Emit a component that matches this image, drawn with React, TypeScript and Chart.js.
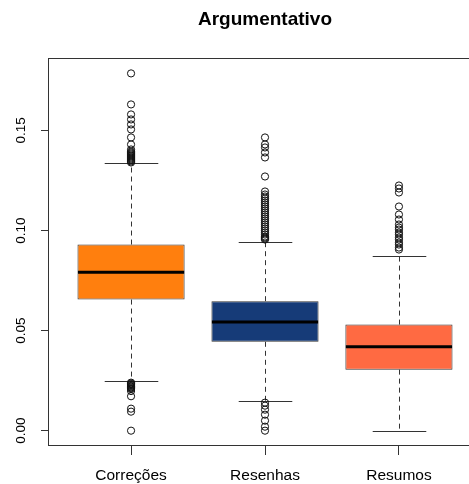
import React, { useEffect, useRef } from 'react';
import { Chart, registerables } from 'chart.js';

Chart.register(...registerables);

const title = 'Argumentativo';
const categories = ['Correções', 'Resenhas', 'Resumos'];
const boxColors = ['#FF7F0E', '#163B78', '#FF6A42'];
const q1 = [0.0655, 0.0444, 0.0305];
const medians = [0.0792, 0.0543, 0.0419];
const q3 = [0.093, 0.0647, 0.053];
const whiskerLow = [0.0247, 0.015, 0.0];
const whiskerHigh = [0.1335, 0.0945, 0.0875];
const outliersCorrecoes = [
  0.1785, 0.163, 0.158, 0.1555, 0.153, 0.1505, 0.1465, 0.143, 0.1405, 0.1395, 0.139, 0.1385,
  0.138, 0.1375, 0.137, 0.1365, 0.136, 0.1355, 0.135, 0.1345, 0.134, 0.024, 0.0236, 0.0232,
  0.0228, 0.0224, 0.022, 0.0216, 0.0212, 0.0208, 0.0198, 0.0172, 0.011, 0.0095, 0.0,
];
const outliersResenhas = [
  0.1465, 0.143, 0.1415, 0.139, 0.1365, 0.127, 0.1195, 0.118, 0.117, 0.116, 0.115, 0.114, 0.113,
  0.112, 0.111, 0.11, 0.109, 0.108, 0.107, 0.106, 0.105, 0.104, 0.103, 0.102, 0.101, 0.1, 0.099,
  0.098, 0.097, 0.0965, 0.096, 0.0955, 0.014, 0.0125, 0.0105, 0.008, 0.005, 0.002, 0.0,
];
const outliersResumos = [
  0.1225, 0.121, 0.119, 0.112, 0.108, 0.1055, 0.103, 0.1015, 0.1005, 0.099, 0.098, 0.0965, 0.0955,
  0.094, 0.093, 0.0915, 0.0905,
];
const yTicks = [0, 0.05, 0.1, 0.15];
const yTickLabels = ['0.00', '0.05', '0.10', '0.15'];
const yMin = -0.00716;
const yMax = 0.1862;
const xMin = -0.62;
const xMax = 2.62;

const FONT = '"Liberation Sans", Arial, Helvetica, sans-serif';

export default function App() {
  const ref = useRef<HTMLCanvasElement | null>(null);

  useEffect(() => {
    const canvas = ref.current;
    if (!canvas) return;
    const outlierSets = [outliersCorrecoes, outliersResenhas, outliersResumos];
    const outlierPoints: { x: number; y: number }[] = [];
    outlierSets.forEach((arr, i) => arr.forEach((v) => outlierPoints.push({ x: i, y: v })));

    const boxPlugin = {
      id: 'boxExtras',
      beforeDatasetsDraw(chart: any) {
        const { ctx, scales } = chart;
        const xs = scales.x;
        const ys = scales.y;
        const meta = chart.getDatasetMeta(0);
        ctx.save();
        categories.forEach((_, i) => {
          const bar = meta.data[i];
          const bw = bar ? bar.width : 107;
          const cx = Math.round(xs.getPixelForValue(i)) + 0.5;
          ctx.strokeStyle = '#333';
          ctx.lineWidth = 1;
          ctx.setLineDash([5, 4]);
          ctx.beginPath();
          ctx.moveTo(cx, ys.getPixelForValue(q3[i]));
          ctx.lineTo(cx, ys.getPixelForValue(whiskerHigh[i]));
          ctx.moveTo(cx, ys.getPixelForValue(q1[i]));
          ctx.lineTo(cx, ys.getPixelForValue(whiskerLow[i]));
          ctx.stroke();
          ctx.setLineDash([]);
          ctx.beginPath();
          const yh = Math.round(ys.getPixelForValue(whiskerHigh[i])) + 0.5;
          const yl = Math.round(ys.getPixelForValue(whiskerLow[i])) + 0.5;
          ctx.moveTo(cx - bw / 4, yh);
          ctx.lineTo(cx + bw / 4, yh);
          ctx.moveTo(cx - bw / 4, yl);
          ctx.lineTo(cx + bw / 4, yl);
          ctx.stroke();
        });
        ctx.restore();
      },
      afterDatasetsDraw(chart: any) {
        const { ctx, scales } = chart;
        const xs = scales.x;
        const ys = scales.y;
        const meta = chart.getDatasetMeta(0);
        ctx.save();
        categories.forEach((_, i) => {
          const bar = meta.data[i];
          const bw = bar ? bar.width : 107;
          const cx = xs.getPixelForValue(i);
          const ym = ys.getPixelForValue(medians[i]);
          ctx.strokeStyle = '#000';
          ctx.lineWidth = 3;
          ctx.beginPath();
          ctx.moveTo(cx - bw / 2 + 0.5, ym);
          ctx.lineTo(cx + bw / 2 - 0.5, ym);
          ctx.stroke();
        });
        ctx.restore();
      },
      afterDraw(chart: any) {
        const { ctx, chartArea, scales } = chart;
        const ys = scales.y;
        ctx.save();
        ctx.strokeStyle = '#333';
        ctx.lineWidth = 1;
        ctx.strokeRect(
          Math.round(chartArea.left) + 0.5,
          Math.round(chartArea.top) + 0.5,
          Math.round(chartArea.right - chartArea.left),
          Math.round(chartArea.bottom - chartArea.top)
        );
        ctx.fillStyle = '#000';
        ctx.font = `13.5px ${FONT}`;
        ctx.textAlign = 'center';
        ctx.textBaseline = 'middle';
        yTicks.forEach((v, i) => {
          const y = ys.getPixelForValue(v);
          ctx.save();
          ctx.translate(21, y);
          ctx.rotate(-Math.PI / 2);
          ctx.fillText(yTickLabels[i], 0, 0);
          ctx.restore();
        });
        ctx.font = `bold 19px ${FONT}`;
        ctx.fillText(title, (chartArea.left + chartArea.right) / 2, 20);
        ctx.restore();
      },
    };

    const chart = new Chart(canvas, {
      type: 'bar',
      data: {
        datasets: [
          {
            type: 'bar',
            data: categories.map((_, i) => ({ x: i, y: [q1[i], q3[i]] })) as any,
            backgroundColor: boxColors,
            borderColor: '#333',
            borderWidth: 1,
            borderSkipped: false,
            barPercentage: 0.8,
            categoryPercentage: 1,
          } as any,
          {
            type: 'scatter',
            data: outlierPoints as any,
            pointRadius: 3.6,
            pointBorderWidth: 1,
            pointBackgroundColor: 'rgba(0,0,0,0)',
            pointBorderColor: '#111',
            showLine: false,
          } as any,
        ],
      },
      options: {
        responsive: false,
        animation: false,
        devicePixelRatio: 1,
        layout: { padding: { top: 58, right: 8, left: 0, bottom: 0 } },
        plugins: {
          legend: { display: false },
          tooltip: { enabled: false },
          title: { display: false },
        },
        scales: {
          x: {
            type: 'linear',
            min: xMin,
            max: xMax,
            offset: false,
            afterBuildTicks: (scale: any) => {
              scale.ticks = categories.map((_, i) => ({ value: i }));
            },
            afterFit: (scale: any) => {
              scale.height = 39;
            },
            ticks: {
              autoSkip: false,
              maxRotation: 0,
              minRotation: 0,
              padding: 11,
              color: '#000',
              font: { family: FONT, size: 15.5 },
              callback: (v: any) => categories[Number(v)] ?? '',
            },
            grid: {
              display: true,
              drawOnChartArea: false,
              drawTicks: true,
              tickLength: 10,
              color: '#333',
              offset: false,
            },
            border: { display: false },
          },
          y: {
            type: 'linear',
            min: yMin,
            max: yMax,
            afterBuildTicks: (scale: any) => {
              scale.ticks = yTicks.map((v) => ({ value: v }));
            },
            afterFit: (scale: any) => {
              scale.width = 48;
            },
            ticks: { display: false },
            grid: {
              display: true,
              drawOnChartArea: false,
              drawTicks: true,
              tickLength: 7,
              color: '#333',
            },
            border: { display: false },
          },
        },
      } as any,
      plugins: [boxPlugin],
    });
    return () => chart.destroy();
  }, []);

  return (
    <div
      style={{
        position: 'fixed',
        left: 0,
        top: 0,
        width: 469,
        height: 484,
        overflow: 'hidden',
        background: '#fff',
      }}
    >
      <canvas ref={ref} width={490} height={484} style={{ width: 490, height: 484, display: 'block' }} />
    </div>
  );
}
